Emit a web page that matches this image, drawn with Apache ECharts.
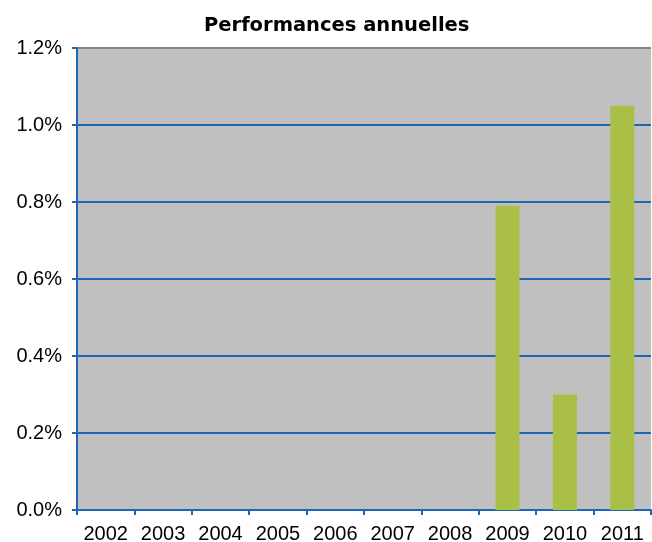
<!DOCTYPE html>
<html>
<head>
<meta charset="utf-8">
<script src="https://cdn.jsdelivr.net/npm/echarts@6/dist/echarts.min.js"></script>
<style>
    html, body { margin: 0; padding: 0; background: #fff; }
    #main { width: 652px; height: 542px; }
</style>
</head>
<body>
<div id="main"></div>
<script>
// annees et performances (en %)
var years = ['2002', '2003', '2004', '2005', '2006', '2007', '2008', '2009', '2010', '2011'];
var perf = [null, null, null, null, null, null, null, 0.79, 0.30, 1.05];
var yMin = 0, yMax = 1.2, yStep = 0.2;

var blue = '#1c68b3';

var myChart = echarts.init(document.getElementById('main'));

var option = {
    animation: false,
    title: {
        text: 'Performances annuelles',
        left: 199,
        top: 11,
        textStyle: {
            fontFamily: 'DejaVu Sans',
            fontWeight: 'bold',
            fontSize: 19.5,
            color: '#000'
        }
    },
    grid: {
        left: 77,
        right: 1,
        top: 48,
        bottom: 32,
        outerBoundsMode: 'none',
        show: true,
        backgroundColor: '#c0c0c0',
        borderWidth: 0
    },
    xAxis: {
        type: 'category',
        data: years,
        axisLine: { lineStyle: { color: blue, width: 2 } },
        axisTick: { show: true, length: 5, lineStyle: { color: blue, width: 2 } },
        axisLabel: {
            interval: 0,
            margin: 14,
            fontFamily: 'Liberation Sans',
            fontSize: 20,
            color: '#000'
        }
    },
    yAxis: {
        type: 'value',
        min: yMin,
        max: yMax,
        interval: yStep,
        axisLine: { show: true, lineStyle: { color: blue, width: 2 } },
        axisTick: { show: true, length: 5, lineStyle: { color: blue, width: 2 } },
        axisLabel: {
            margin: 15,
            fontFamily: 'Liberation Sans',
            fontSize: 20,
            color: '#000',
            formatter: function (v) {
                return v.toFixed(1) + '%';
            }
        },
        splitLine: {
            show: true,
            lineStyle: {
                width: 2,
                // derniere ligne (1.2%) en gris
                color: [blue, blue, blue, blue, blue, blue, '#858585']
            }
        }
    },
    series: [{
        type: 'bar',
        data: perf,
        barWidth: 24,
        itemStyle: { color: '#a9bf45' }
    }]
};

myChart.setOption(option);
</script>
</body>
</html>
